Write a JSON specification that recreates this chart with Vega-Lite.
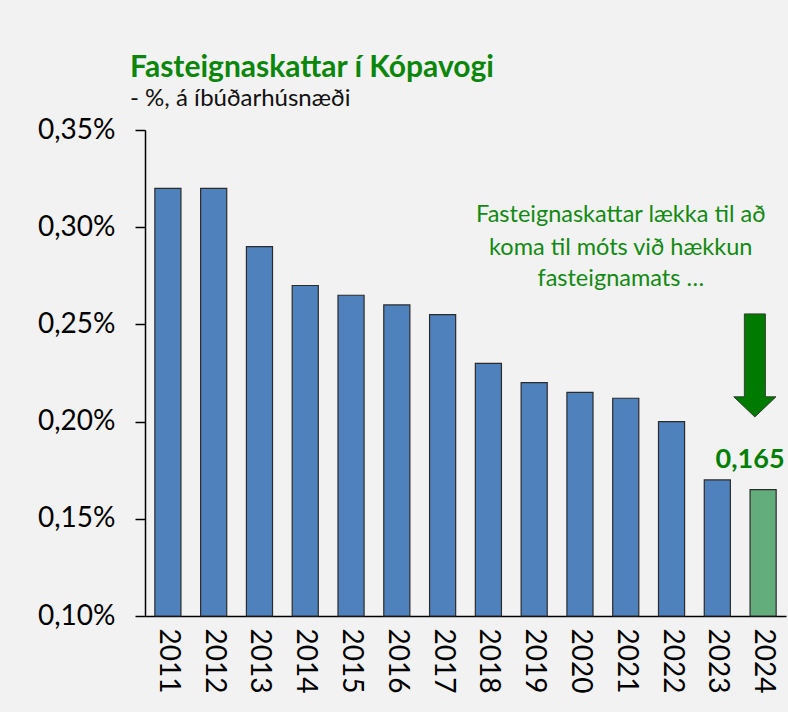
{
  "$schema": "https://vega.github.io/schema/vega-lite/v6.json",
  "autosize": "none",
  "width": 641,
  "height": 486,
  "padding": {"left": 145, "top": 130, "right": 2, "bottom": 96},
  "background": "#f2f2f2",
  "title": {
    "text": "Fasteignaskattar í Kópavogi",
    "subtitle": "- %, á íbúðarhúsnæði",
    "anchor": "start",
    "frame": "group",
    "dx": -15,
    "offset": 5,
    "font": "Lato",
    "fontSize": 30,
    "fontWeight": "bold",
    "color": "#0a860a",
    "subtitleFont": "Lato",
    "subtitleFontSize": 24,
    "subtitleColor": "#111111",
    "subtitlePadding": 4
  },
  "datasets": {
    "bars": [
      {"year": "2011", "value": 0.32, "kind": "past"},
      {"year": "2012", "value": 0.32, "kind": "past"},
      {"year": "2013", "value": 0.29, "kind": "past"},
      {"year": "2014", "value": 0.27, "kind": "past"},
      {"year": "2015", "value": 0.265, "kind": "past"},
      {"year": "2016", "value": 0.26, "kind": "past"},
      {"year": "2017", "value": 0.255, "kind": "past"},
      {"year": "2018", "value": 0.23, "kind": "past"},
      {"year": "2019", "value": 0.22, "kind": "past"},
      {"year": "2020", "value": 0.215, "kind": "past"},
      {"year": "2021", "value": 0.212, "kind": "past"},
      {"year": "2022", "value": 0.2, "kind": "past"},
      {"year": "2023", "value": 0.17, "kind": "past"},
      {"year": "2024", "value": 0.165, "kind": "new"}
    ],
    "note": [
      {"year": "2021", "value": 0.3063, "text": "Fasteignaskattar lækka til að"},
      {"year": "2021", "value": 0.2893, "text": "koma til móts við hækkun"},
      {"year": "2021", "value": 0.2735, "text": "fasteignamats …"}
    ],
    "arrow": [
      {"year": "2024", "value": 0.2289}
    ],
    "label": [
      {"year": "2024", "value": 0.165, "text": "0,165"}
    ]
  },
  "encoding": {
    "x": {
      "field": "year",
      "type": "ordinal",
      "scale": {"domain": ["2011","2012","2013","2014","2015","2016","2017","2018","2019","2020","2021","2022","2023","2024"], "paddingInner": 0.43, "paddingOuter": 0.215},
      "axis": {
        "title": null,
        "labelAngle": 90,
        "labelFont": "Lato",
        "labelFontSize": 28,
        "labelColor": "#000000",
        "labelPadding": 12,
        "ticks": false,
        "domainColor": "#000000",
        "domainWidth": 1.5
      }
    },
    "y": {
      "field": "value",
      "type": "quantitative",
      "scale": {"domain": [0.1, 0.35], "nice": false, "zero": false},
      "axis": {
        "title": null,
        "values": [0.1, 0.15, 0.2, 0.25, 0.3, 0.35],
        "labelExpr": "replace(format(datum.value, '.2f'), '.', ',') + '%'",
        "labelFont": "Lato",
        "labelFontSize": 28,
        "labelColor": "#000000",
        "labelPadding": 20,
        "tickSize": 10,
        "tickColor": "#000000",
        "tickWidth": 1.5,
        "domainColor": "#000000",
        "domainWidth": 1.5,
        "grid": false
      }
    }
  },
  "layer": [
    {
      "data": {"name": "bars"},
      "mark": {"type": "bar", "stroke": "#2b2b2b", "strokeWidth": 1.2},
      "encoding": {
        "y2": {"datum": 0.1},
        "color": {
          "field": "kind",
          "type": "nominal",
          "scale": {"domain": ["past", "new"], "range": ["#4f81bd", "#63ad7c"]},
          "legend": null
        }
      }
    },
    {
      "data": {"name": "note"},
      "mark": {"type": "text", "font": "Lato", "fontSize": 23.5, "color": "#118a11", "align": "center", "baseline": "middle", "dx": -5},
      "encoding": {"text": {"field": "text"}}
    },
    {
      "data": {"name": "arrow"},
      "mark": {
        "type": "point",
        "filled": true,
        "shape": "M -0.364 -1 L 0.044 -1 L 0.044 0.61 L 0.25 0.61 L -0.16 1 L -0.57 0.61 L -0.364 0.61 Z",
        "size": 10609,
        "color": "#007a00",
        "fill": "#007a00",
        "stroke": "#2f3f2f",
        "strokeWidth": 1,
        "opacity": 1
      },
      "encoding": {}
    },
    {
      "data": {"name": "label"},
      "mark": {"type": "text", "font": "Lato", "fontSize": 27, "fontWeight": "bold", "color": "#008000", "align": "center", "baseline": "alphabetic", "dx": -13, "dy": -22},
      "encoding": {"text": {"field": "text"}}
    }
  ],
  "config": {
    "view": {"stroke": null}
  }
}
